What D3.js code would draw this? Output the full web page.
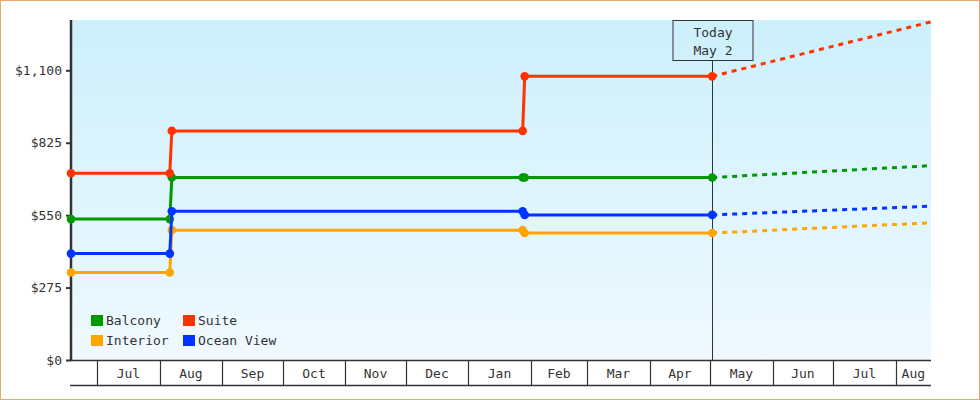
<!DOCTYPE html>
<html>
<head>
<meta charset="utf-8">
<script src="https://cdn.jsdelivr.net/npm/d3@7"></script>
<style>
  html, body { margin: 0; padding: 0; background: #fff; }
  svg { display: block; }
  text { font-family: "DejaVu Sans Mono", monospace; font-size: 13px; fill: #333; }
</style>
</head>
<body>
<svg id="chart" width="980" height="400"></svg>
<script>
// ---- data ----
const seriesNames = ["Balcony", "Suite", "Interior", "Ocean View"];
const seriesColors = ["#009900", "#ff3300", "#ffa500", "#0033ff"];
// change dates (historical points)
const histDates = ["2018-06-18", "2018-08-06", "2018-08-07", "2019-01-28", "2019-01-29", "2019-05-02"];
const balconyHist  = [535, 535, 693, 693, 693, 693];
const suiteHist    = [709, 709, 870, 870, 1077, 1077];
const interiorHist = [332, 332, 493, 493, 482, 482];
const oceanHist    = [404, 404, 565, 565, 551, 551];
// forecast (today -> end)
const forecastDates = ["2019-05-02", "2019-08-18T12:00"];
const balconyFc  = [693, 738];
const suiteFc    = [1077, 1284];
const interiorFc = [482, 521];
const oceanFc    = [551, 584];
const yTicks = [0, 275, 550, 825, 1100];
const todayDate = "2019-05-02";
const todayLabel = ["Today", "May 2"];
const domainStart = "2018-06-18";
const domainEnd = "2019-08-18T12:00";
const yMax = 1291;

const hist = [balconyHist, suiteHist, interiorHist, oceanHist];
const fc = [balconyFc, suiteFc, interiorFc, oceanFc];

// ---- layout ----
const svg = d3.select("#chart");
const W = 980, H = 400;
const L = 71, R = 931, T = 20, B = 360;
const parse = s => new Date(s.length === 10 ? s + "T00:00" : s);

svg.append("rect").attr("x", 0.5).attr("y", 0.5).attr("width", W - 1).attr("height", H - 1)
  .attr("fill", "#fff").attr("stroke", "#e8aa66").attr("stroke-width", 1);

const defs = svg.append("defs");
const grad = defs.append("linearGradient").attr("id", "bg").attr("x1", 0).attr("y1", 0).attr("x2", 0).attr("y2", 1);
grad.append("stop").attr("offset", "0%").attr("stop-color", "#ccf0fc");
grad.append("stop").attr("offset", "100%").attr("stop-color", "#f0f9ff");

const x = d3.scaleTime().domain([parse(domainStart), parse(domainEnd)]).range([L, R]);
const y = d3.scaleLinear().domain([0, yMax]).range([B, T]);

svg.append("rect").attr("x", L).attr("y", T).attr("width", R - L).attr("height", B - T).attr("fill", "url(#bg)");

// y axis
const yAxis = svg.append("g").attr("transform", `translate(${L},0)`)
  .call(d3.axisLeft(y).tickValues(yTicks).tickSize(5).tickPadding(4)
    .tickFormat(d => "$" + d3.format(",")(d)));
yAxis.select(".domain").remove();
yAxis.selectAll("line").attr("stroke", "#333").attr("stroke-width", 2);
yAxis.selectAll("text").attr("font-family", "DejaVu Sans Mono").attr("font-size", 13).attr("fill", "#333");
svg.append("line").attr("x1", L).attr("x2", L).attr("y1", T).attr("y2", B + 1)
  .attr("stroke", "#333").attr("stroke-width", 2.5);

// x axis: month bands
const xg = svg.append("g");
xg.append("line").attr("x1", L - 1).attr("x2", R).attr("y1", B + 0.5).attr("y2", B + 0.5).attr("stroke", "#333").attr("stroke-width", 1.3);
xg.append("line").attr("x1", L - 1).attr("x2", R).attr("y1", 385.5).attr("y2", 385.5).attr("stroke", "#333").attr("stroke-width", 1.3);
const months = d3.timeMonth.range(d3.timeMonth.ceil(x.domain()[0]), x.domain()[1]);
months.forEach(m => {
  const px = Math.round(x(m)) + 0.5;
  xg.append("line").attr("x1", px).attr("x2", px).attr("y1", B).attr("y2", 385)
    .attr("stroke", "#333").attr("stroke-width", 1.2);
  const next = d3.timeMonth.offset(m, 1);
  const end = Math.min(x(next), R);
  xg.append("text").attr("x", (x(m) + end) / 2).attr("y", 378).attr("text-anchor", "middle")
    .text(d3.timeFormat("%b")(m));
});

// today marker
const tx = Math.round(x(parse(todayDate))) + 0.5;
svg.append("line").attr("x1", tx).attr("x2", tx).attr("y1", 60).attr("y2", B)
  .attr("stroke", "#333").attr("stroke-width", 1);
svg.append("rect").attr("x", tx - 39.5).attr("y", 20.5).attr("width", 80).attr("height", 40)
  .attr("fill", "none").attr("stroke", "#333").attr("stroke-width", 1);
svg.append("text").attr("x", tx + 0.5).attr("y", 37).attr("text-anchor", "middle").text(todayLabel[0]);
svg.append("text").attr("x", tx + 0.5).attr("y", 55).attr("text-anchor", "middle").text(todayLabel[1]);

// series
const line = d3.line().x(d => x(d[0])).y(d => y(d[1]));
seriesNames.forEach((name, i) => {
  const pts = histDates.map((d, j) => [parse(d), hist[i][j]]);
  const fpts = forecastDates.map((d, j) => [parse(d), fc[i][j]]);
  svg.append("path").datum(fpts).attr("d", line).attr("fill", "none")
    .attr("stroke", seriesColors[i]).attr("stroke-width", 3).attr("stroke-dasharray", "5,5");
  svg.append("path").datum(pts).attr("d", line).attr("fill", "none")
    .attr("stroke", seriesColors[i]).attr("stroke-width", 3);
  svg.selectAll(null).data(pts).enter().append("circle")
    .attr("cx", d => x(d[0])).attr("cy", d => y(d[1])).attr("r", 4.3)
    .attr("fill", seriesColors[i]);
});

// legend
const legendPos = [[91, 315], [183, 315], [91, 335], [183, 335]];
seriesNames.forEach((name, i) => {
  const [lx, ly] = legendPos[i];
  svg.append("rect").attr("x", lx).attr("y", ly).attr("width", 12).attr("height", 11).attr("fill", seriesColors[i]);
  svg.append("text").attr("x", lx + 15).attr("y", ly + 10).text(name);
});
</script>
</body>
</html>
